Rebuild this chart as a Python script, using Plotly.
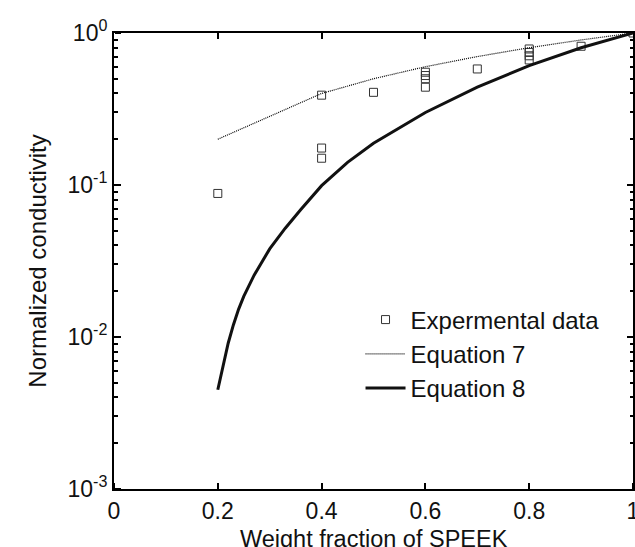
import plotly.graph_objects as go

# Experimental data
exp_x = [0.2, 0.4, 0.4, 0.4, 0.5, 0.6, 0.6, 0.6, 0.6, 0.7, 0.8, 0.8, 0.8, 0.8, 0.9, 1.0]
exp_y = [0.088, 0.39, 0.175, 0.15, 0.407, 0.552, 0.525, 0.50, 0.44, 0.58, 0.785, 0.745, 0.708, 0.665, 0.818, 1.0]

# Equation 7
eq7_x = [0.2, 0.4, 0.5, 0.6, 0.7, 0.8, 0.9, 1.0]
eq7_y = [0.2, 0.4, 0.5, 0.6, 0.7, 0.8, 0.9, 1.0]

# Equation 8
eq8_x = [0.20, 0.21, 0.22, 0.23, 0.24, 0.25, 0.27, 0.30, 0.33, 0.36, 0.40, 0.45, 0.50, 0.60, 0.70, 0.80, 0.90, 1.00]
eq8_y = [0.0045, 0.0065, 0.0091, 0.0120, 0.0152, 0.0185, 0.0255, 0.038, 0.052, 0.069, 0.099, 0.141, 0.188, 0.300, 0.44, 0.61, 0.80, 1.0]

# Axis ticks
x_ticks = [0, 0.2, 0.4, 0.6, 0.8, 1]
x_ticktext = ["0", "0.2", "0.4", "0.6", "0.8", "1"]
y_ticks = [0.001, 0.01, 0.1, 1]
y_ticktext = ["10<sup>-3</sup>", "10<sup>-2</sup>", "10<sup>-1</sup>", "10<sup>0</sup>"]
y_minor = [m * 10.0 ** e for e in (-3, -2, -1) for m in range(2, 10)]

FONT = "Liberation Sans, Arial, sans-serif"
INK = "#111111"

fig = go.Figure()
fig.add_trace(go.Scatter(
    x=exp_x, y=exp_y, mode="markers", name="Expermental data",
    marker=dict(symbol="square-open", size=8, color="#333333", line=dict(width=1, color="#333333")),
))
fig.add_trace(go.Scatter(
    x=eq7_x, y=eq7_y, mode="lines", name="Equation 7",
    line=dict(color="#000000", width=1.2, dash="1px,1px"),
))
fig.add_trace(go.Scatter(
    x=eq8_x, y=eq8_y, mode="lines", name="Equation 8",
    line=dict(color=INK, width=3),
))
# invisible helpers so the inward-tick overlay axes are drawn
fig.add_trace(go.Scatter(x=[None], y=[None], xaxis="x", yaxis="y2", showlegend=False, hoverinfo="skip"))
fig.add_trace(go.Scatter(x=[None], y=[None], xaxis="x2", yaxis="y", showlegend=False, hoverinfo="skip"))

fig.update_layout(
    width=635, height=547,
    margin=dict(l=114, r=2, t=33, b=58, autoexpand=False),
    paper_bgcolor="white", plot_bgcolor="white",
    font=dict(family=FONT, size=23, color=INK),
    showlegend=True,
    legend=dict(
        x=0.475, y=0.42, xanchor="left", yanchor="top",
        bgcolor="rgba(0,0,0,0)", borderwidth=0,
        font=dict(size=24, family=FONT, color=INK),
        itemwidth=40,
    ),
    xaxis=dict(
        range=[0, 1], tickmode="array", tickvals=x_ticks, ticktext=x_ticktext,
        showgrid=False, zeroline=False,
        showline=True, linecolor="black", linewidth=2, mirror="ticks",
        ticks="inside", ticklen=6, tickwidth=2, tickcolor="black",
        ticklabeloverflow="allow",
        tickfont=dict(size=23, family=FONT),
    ),
    yaxis=dict(
        type="log", range=[-3, 0], tickmode="array", tickvals=y_ticks, ticktext=y_ticktext,
        showgrid=False, zeroline=False,
        showline=True, linecolor="black", linewidth=2, mirror="ticks",
        ticks="inside", ticklen=6, tickwidth=2, tickcolor="black",
        title=dict(text="Normalized conductivity", font=dict(size=24, family=FONT), standoff=14),
        tickfont=dict(size=23, family=FONT),
        minor=dict(tickmode="array", tickvals=y_minor, ticks="inside", ticklen=3, tickwidth=1.5, tickcolor="black"),
    ),
    # overlay axes on the bottom / left edges whose "outside" ticks point into the plot
    xaxis2=dict(
        overlaying="x", side="top", anchor="free", position=0,
        range=[0, 1], tickmode="array", tickvals=x_ticks, showticklabels=False,
        showgrid=False, zeroline=False, showline=False,
        ticks="outside", ticklen=6, tickwidth=2, tickcolor="black",
    ),
    yaxis2=dict(
        overlaying="y", side="right", anchor="free", position=0,
        type="log", range=[-3, 0], tickmode="array", tickvals=y_ticks, showticklabels=False,
        showgrid=False, zeroline=False, showline=False,
        ticks="outside", ticklen=6, tickwidth=2, tickcolor="black",
        minor=dict(tickmode="array", tickvals=y_minor, ticks="outside", ticklen=3, tickwidth=1.5, tickcolor="black"),
    ),
    annotations=[dict(
        text="Weight fraction of SPEEK", xref="paper", yref="paper",
        x=0.5, y=-0.1096, xanchor="center", yanchor="middle", showarrow=False,
        font=dict(size=23.5, family=FONT, color=INK),
    )],
)

fig.write_html("out.html")
